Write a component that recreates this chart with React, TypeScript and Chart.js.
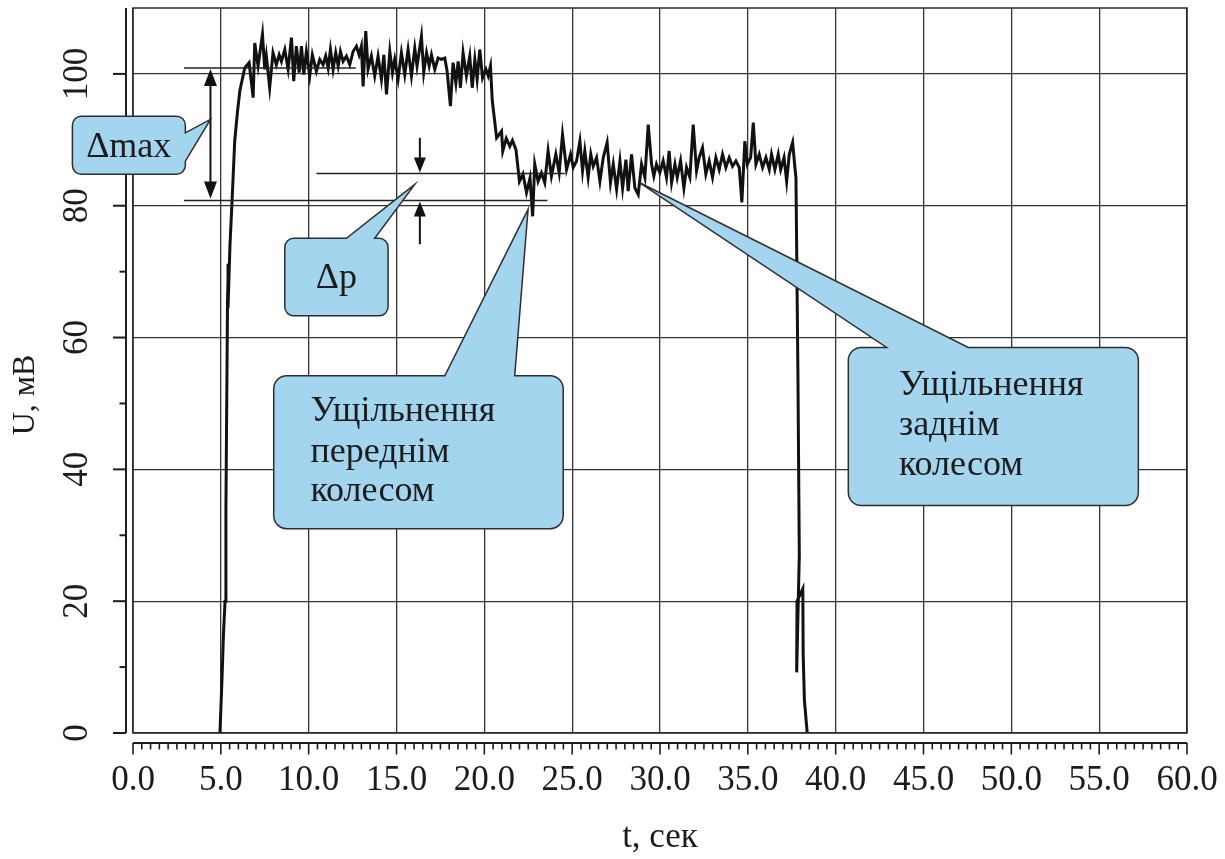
import React, { useEffect, useRef } from 'react';
import { Chart, registerables } from 'chart.js';

Chart.register(...registerables);

// ---- data ----
const timeSec: number[] = [
  // rise
  4.95, 5.07, 5.15, 5.24, 5.29, 5.38, 5.43, 5.41, 5.52, 5.64, 5.79, 5.95, 6.08,
  // first plateau
  6.36, 6.61, 6.84, 6.93, 7.12, 7.37, 7.5, 7.59, 7.78, 7.97, 8.16, 8.32, 8.45, 8.64, 8.83,
  9.02, 9.15, 9.3, 9.46, 9.59, 9.72, 9.87, 10.06, 10.21, 10.44, 10.63, 10.82, 10.97, 11.11,
  11.24, 11.39, 11.54, 11.68, 11.81, 11.96, 12.15, 12.34, 12.53, 12.72, 12.87, 13.0, 13.1,
  13.25, 13.38, 13.57, 13.76, 13.95, 14.14, 14.28, 14.43, 14.62, 14.77, 14.9, 15.09, 15.28,
  15.47, 15.66, 15.85, 16.04, 16.17, 16.42, 16.55, 16.71, 16.86, 16.99, 17.18, 17.37, 17.56,
  17.75, 17.88, 18.07, 18.22, 18.38, 18.51, 18.64, 18.79, 18.98, 19.17, 19.31, 19.46, 19.59,
  19.74, 19.9, 20.09, 20.22, 20.35,
  // drop to second level
  20.45, 20.7, 20.98, 21.05, 21.25, 21.45, 21.6, 21.8, 22.0, 22.2, 22.4, 22.6, 22.75,
  // second plateau
  22.87, 23.06, 23.25, 23.44, 23.63, 23.82, 24.07, 24.26, 24.45, 24.68, 24.91, 25.06, 25.25,
  25.44, 25.59, 25.72, 25.91, 26.06, 26.2, 26.39, 26.58, 26.77, 26.99, 27.18, 27.34, 27.53,
  27.72, 27.87, 28.06, 28.19, 28.38, 28.57, 28.76, 28.95, 29.14, 29.33, 29.52, 29.65, 29.8,
  29.99, 30.18, 30.37, 30.52, 30.66, 30.85, 30.98, 31.17, 31.36, 31.51, 31.7, 31.89, 32.08,
  32.23, 32.42, 32.61, 32.8, 32.99, 33.18, 33.37, 33.56, 33.75, 33.94, 34.13, 34.32, 34.51,
  34.66, 34.83, 34.97, 35.16, 35.31, 35.46, 35.65, 35.84, 36.03, 36.22, 36.35, 36.54, 36.73,
  36.87, 37.06, 37.21, 37.36, 37.55, 37.68,
  // fall
  37.74, 37.85, 37.93, 37.78, 37.8, 38.13, 38.15, 38.22, 38.38,
];

const voltageMv: number[] = [
  0, 8.5, 15, 20, 34, 65.5, 71.2, 64.5, 74, 80.8, 89.8, 94.3, 97.4,
  100.9, 101.7, 96.4, 104.7, 101.2, 106.0, 100.7, 102.7, 97.9, 103.2, 101.4, 102.9, 101.9, 103.7, 100.7,
  105.5, 98.9, 104.2, 100.2, 104.2, 99.9, 103.4, 99.7, 102.9, 100.4, 102.2, 101.4, 102.7, 100.9,
  103.7, 100.7, 103.2, 101.2, 103.4, 101.9, 102.7, 101.4, 103.4, 104.2, 102.9, 104.2, 98.1,
  106.5, 100.7, 102.7, 99.7, 102.7, 99.2, 102.9, 96.9, 103.4, 100.2, 102.2, 99.2, 103.2,
  99.9, 103.7, 99.7, 103.9, 101.2, 105.7, 100.2, 103.2, 101.2, 102.9, 100.7, 102.4, 102.2,
  102.4, 100.4, 95.1, 101.7, 98.6, 101.9, 97.9, 103.2, 99.7, 102.7, 97.9, 102.2, 99.2,
  103.7, 99.4, 100.7, 99.7, 101.2,
  96.0, 90.3, 91.3, 88.3, 90.2, 89.0, 89.9, 88.5, 83.7, 84.8, 82.0, 84.2, 78.4,
  86.3, 83.7, 85.0, 83.5, 88.3, 84.5, 87.8, 85.0, 90.8, 85.5, 87.8, 85.8, 86.8,
  89.8, 85.3, 88.3, 84.3, 87.8, 86.0, 87.3, 83.7, 87.3, 89.6, 83.5, 86.3, 82.5,
  86.8, 82.7, 87.0, 82.2, 87.8, 82.7, 81.7, 86.3, 84.3, 92.3, 86.3, 84.5, 86.3,
  85.0, 86.8, 84.3, 88.3, 83.5, 86.3, 84.3, 86.8, 82.7, 85.8, 84.3, 92.3, 85.3,
  87.3, 88.8, 84.8, 86.8, 84.3, 87.3, 85.5, 87.8, 85.8, 87.3, 86.0, 86.8, 85.8,
  80.5, 89.8, 86.3, 87.3, 92.6, 86.3, 87.8, 85.8, 87.3, 85.5, 87.8, 85.5, 87.8,
  85.5, 87.3, 83.7, 87.8, 89.6, 85.8,
  84.2, 55, 27, 9.2, 20, 21.9, 12, 5, 0,
];

const xMajorTicks = [0, 5, 10, 15, 20, 25, 30, 35, 40, 45, 50, 55, 60];
const xTickLabels = ['0.0', '5.0', '10.0', '15.0', '20.0', '25.0', '30.0', '35.0', '40.0', '45.0', '50.0', '55.0', '60.0'];
const yMajorTicks = [0, 20, 40, 60, 80, 100];
const yMinorTicks = [10, 30, 50, 70, 90];
const xMinorPerMajor = 10;

const xTitle = 't, сек';
const yTitle = 'U, мВ';

// reference levels (mV) and the marker annotations
const levelMax = 100.9;
const levelMin = 80.8;
const levelSteady = 84.9;

const FONT = '"Liberation Serif", "Times New Roman", serif';
const INK = '#1c1c1c';
const FILL = '#a4d5ee';

type Callout = {
  t0: number; t1: number; uTop: number; uBot: number;
  side: 'top' | 'right'; b0: number; b1: number; tipT: number; tipU: number;
  lines: string[]; textT: number; lineU: number[]; align: 'center' | 'left'; r: number;
};

const callouts: Callout[] = [
  { t0: -3.45, t1: 2.98, uTop: 93.59, uBot: 84.76, side: 'right', b0: 91.06, b1: 86.77, tipT: 4.41, tipU: 93.09,
    lines: ['Δmax'], textT: -0.24, lineU: [88.9], align: 'center', r: 9 },
  { t0: 8.64, t1: 14.52, uTop: 75.06, uBot: 63.29, side: 'top', b0: 12.15, b1: 13.76, tipT: 16.04, tipU: 83.24,
    lines: ['Δp'], textT: 11.58, lineU: [68.9], align: 'center', r: 9 },
  { t0: 8.01, t1: 24.49, uTop: 54.2, uBot: 31.0, side: 'top', b0: 17.75, b1: 21.73, tipT: 22.49, tipU: 79.45,
    lines: ['Ущільнення', 'переднім', 'колесом'], textT: 10.1, lineU: [48.7, 42.5, 36.6], align: 'left', r: 13 },
  { t0: 40.72, t1: 57.23, uTop: 58.5, uBot: 34.5, side: 'top', b0: 42.9, b1: 47.55, tipT: 28.85, tipU: 83.48,
    lines: ['Ущільнення', 'заднім', 'колесом'], textT: 43.6, lineU: [52.7, 46.6, 40.6], align: 'left', r: 13 },
];

const overlayPlugin = {
  id: 'overlay',
  afterDraw(chart: any) {
    const { ctx, chartArea: a, scales } = chart;
    const X = (t: number) => scales.x.getPixelForValue(t);
    const Y = (u: number) => scales.y.getPixelForValue(u);
    const seg = (x0: number, y0: number, x1: number, y1: number) => {
      ctx.beginPath(); ctx.moveTo(x0, y0); ctx.lineTo(x1, y1); ctx.stroke();
    };
    ctx.save();
    ctx.strokeStyle = '#2a2a2a';
    ctx.lineWidth = 1.5;
    ctx.strokeRect(a.left, a.top, a.right - a.left, a.bottom - a.top);

    // offset y axis
    ctx.strokeStyle = INK;
    ctx.lineWidth = 2;
    const yAx = a.left - 7;
    seg(yAx, a.top, yAx, a.bottom);
    yMajorTicks.forEach((v) => seg(yAx - 13, Y(v), yAx, Y(v)));
    yMinorTicks.forEach((v) => seg(yAx - 6.5, Y(v), yAx, Y(v)));

    // offset x axis
    const xAx = a.bottom + 10;
    seg(a.left, xAx, a.right, xAx);
    ctx.lineWidth = 1.6;
    for (let i = 0; i < xMajorTicks.length; i++) {
      seg(X(xMajorTicks[i]), xAx, X(xMajorTicks[i]), xAx + 11.5);
      if (i < xMajorTicks.length - 1) {
        const step = (xMajorTicks[i + 1] - xMajorTicks[i]) / xMinorPerMajor;
        for (let k = 1; k < xMinorPerMajor; k++) {
          const px = X(xMajorTicks[i] + k * step);
          seg(px, xAx, px, xAx + 6.5);
        }
      }
    }

    // reference level lines
    ctx.lineWidth = 1.4;
    ctx.strokeStyle = '#222';
    seg(X(2.9), Y(levelMax), X(12.68), Y(levelMax));
    seg(X(2.9), Y(levelMin), X(23.59), Y(levelMin));
    seg(X(10.44), Y(levelSteady), X(24.58), Y(levelSteady));

    const head = (x: number, y: number, dir: number, len: number, w: number) => {
      ctx.beginPath();
      ctx.moveTo(x, y);
      ctx.lineTo(x - w / 2, y - dir * len);
      ctx.lineTo(x + w / 2, y - dir * len);
      ctx.closePath();
      ctx.fill();
    };
    ctx.fillStyle = '#111';
    ctx.strokeStyle = '#111';
    ctx.lineWidth = 2;
    // Δmax double arrow
    const ax = X(4.41);
    seg(ax, Y(levelMax) + 10, ax, Y(levelMin) - 10);
    head(ax, Y(levelMax) + 1, -1, 17, 13);
    head(ax, Y(levelMin) - 2, 1, 17, 13);
    // Δp arrows
    const px = X(16.33);
    seg(px, Y(90.3), px, Y(levelSteady) - 8);
    head(px, Y(levelSteady) - 1, 1, 15, 12);
    seg(px, Y(74.15), px, Y(levelMin) + 8);
    head(px, Y(levelMin) + 1, -1, 15, 12);

    // callouts
    callouts.forEach((c) => {
      const x0 = X(c.t0), x1 = X(c.t1), y0 = Y(c.uTop), y1 = Y(c.uBot), r = c.r;
      const tx = X(c.tipT), ty = Y(c.tipU);
      ctx.beginPath();
      ctx.moveTo(x0 + r, y0);
      if (c.side === 'top') {
        ctx.lineTo(X(c.b0), y0);
        ctx.lineTo(tx, ty);
        ctx.lineTo(X(c.b1), y0);
      }
      ctx.lineTo(x1 - r, y0);
      ctx.arcTo(x1, y0, x1, y0 + r, r);
      if (c.side === 'right') {
        ctx.lineTo(x1, Y(c.b0));
        ctx.lineTo(tx, ty);
        ctx.lineTo(x1, Y(c.b1));
      }
      ctx.lineTo(x1, y1 - r);
      ctx.arcTo(x1, y1, x1 - r, y1, r);
      ctx.lineTo(x0 + r, y1);
      ctx.arcTo(x0, y1, x0, y1 - r, r);
      ctx.lineTo(x0, y0 + r);
      ctx.arcTo(x0, y0, x0 + r, y0, r);
      ctx.closePath();
      ctx.fillStyle = FILL;
      ctx.fill();
      ctx.lineWidth = 1.5;
      ctx.strokeStyle = '#2e2e2e';
      ctx.stroke();
      ctx.fillStyle = INK;
      ctx.font = `36px ${FONT}`;
      ctx.textAlign = c.align;
      ctx.textBaseline = 'middle';
      c.lines.forEach((s, i) => ctx.fillText(s, X(c.textT), Y(c.lineU[i])));
    });

    // y axis title
    ctx.save();
    ctx.translate(26, Y(51.3));
    ctx.rotate(-Math.PI / 2);
    ctx.font = `32px ${FONT}`;
    ctx.fillStyle = INK;
    ctx.textAlign = 'center';
    ctx.textBaseline = 'middle';
    ctx.fillText(yTitle, 0, 0);
    ctx.restore();

    ctx.restore();
  },
};

export default function App() {
  const ref = useRef<HTMLCanvasElement>(null);
  useEffect(() => {
    document.body.style.margin = '0';
    const points = timeSec.map((t, i) => ({ x: t, y: voltageMv[i] }));
    const chart = new Chart(ref.current as HTMLCanvasElement, {
      type: 'line',
      data: {
        datasets: [
          {
            data: points,
            borderColor: '#111',
            borderWidth: 3,
            pointRadius: 0,
            tension: 0,
            fill: false,
          },
        ],
      },
      options: {
        responsive: false,
        animation: false,
        layout: { padding: { top: 8, right: 38, left: 0, bottom: 0 } },
        plugins: { legend: { display: false }, tooltip: { enabled: false } },
        scales: {
          x: {
            type: 'linear',
            min: 0,
            max: 60,
            afterBuildTicks: (s: any) => { s.ticks = xMajorTicks.map((v) => ({ value: v })); },
            afterFit: (s: any) => { s.height = 126; s.paddingLeft = 0; s.paddingRight = 0; },
            grid: { color: '#333', lineWidth: 1.3, drawTicks: false },
            border: { display: false },
            ticks: {
              autoSkip: false,
              maxRotation: 0,
              padding: 27,
              color: INK,
              font: { family: FONT, size: 35 },
              callback: (_v: any, i: number) => xTickLabels[i],
            },
            title: {
              display: true,
              text: xTitle,
              color: INK,
              font: { family: FONT, size: 35 },
              padding: { top: 0, bottom: 0 },
            },
          },
          y: {
            type: 'linear',
            min: 0,
            max: 110,
            afterBuildTicks: (s: any) => { s.ticks = yMajorTicks.map((v) => ({ value: v })); },
            afterFit: (s: any) => { s.width = 133; s.paddingTop = 0; s.paddingBottom = 0; },
            grid: { color: '#333', lineWidth: 1.3, drawTicks: false },
            border: { display: false },
            ticks: {
              minRotation: 90,
              maxRotation: 90,
              crossAlign: 'center',
              padding: 29,
              color: INK,
              font: { family: FONT, size: 35 },
              callback: (v: any) => String(v),
            },
          },
        },
      },
      plugins: [overlayPlugin],
    } as any);
    return () => chart.destroy();
  }, []);
  return (
    <div style={{ width: 1225, height: 859 }}>
      <canvas ref={ref} width={1225} height={859} style={{ display: 'block' }} />
    </div>
  );
}
